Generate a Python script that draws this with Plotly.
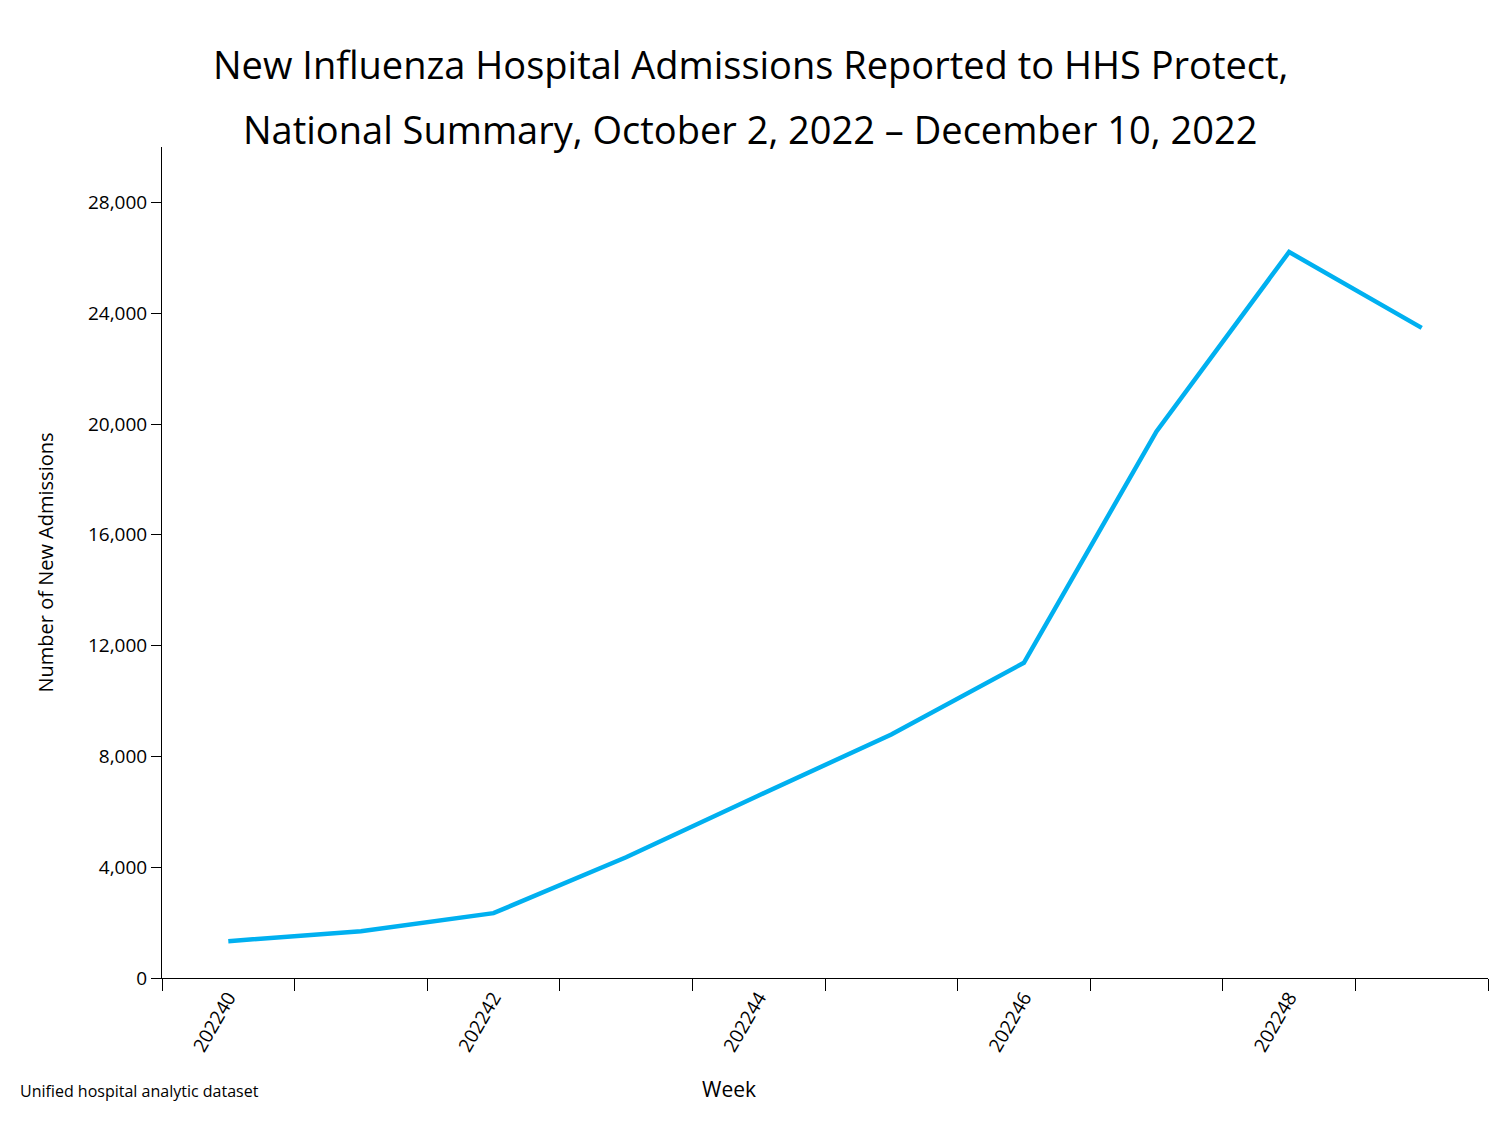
import plotly.graph_objects as go

# weekly national flu admissions (MMWR week 202240..202249)
weeks = [40, 41, 42, 43, 44, 45, 46, 47, 48, 49]
admissions = [1330, 1690, 2340, 4360, 6590, 8790, 11380, 19730, 26210, 23470]
label_weeks = [40, 42, 44, 46, 48]
label_text = ["2022" + str(w) for w in label_weeks]
y_ticks = [0, 4000, 8000, 12000, 16000, 20000, 24000, 28000]

W, H = 1500, 1125
L, R, T, B = 154, 20, 139, 155
PW, PH = W - L - R, H - T - B


def px(x):
    return (x - 8 - L) / PW


def py(y):
    return (H - B - (y - 8)) / PH


fig = go.Figure()
fig.add_trace(go.Scatter(
    x=weeks, y=admissions, mode="lines",
    line=dict(color="#00b0f0", width=4.5),
    showlegend=False,
))

font = "Open Sans, Calibri, Liberation Sans, sans-serif"
fig.update_layout(
    width=W, height=H,
    paper_bgcolor="white", plot_bgcolor="white",
    margin=dict(l=L, r=R, t=T, b=B),
    font=dict(family=font, color="black", size=19),
    xaxis=dict(
        range=[39.5, 49.5], tickvals=label_weeks, ticktext=label_text,
        tickangle=-60, ticks="", showgrid=False, zeroline=False,
        showline=True, linecolor="black", linewidth=1, automargin=False,
        minor=dict(tick0=39.5, dtick=1, ticks="outside", ticklen=12,
                   tickcolor="black", showgrid=False),
        tickfont=dict(size=19),
    ),
    yaxis=dict(
        range=[0, 30000], tickvals=y_ticks, tickformat=",",
        ticks="outside", ticklen=10, tickcolor="black",
        showgrid=False, zeroline=False, automargin=False,
        showline=True, linecolor="black", linewidth=1,
        title=dict(text="Number of New Admissions", font=dict(size=20), standoff=28),
    ),
)
fig.add_annotation(text="New Influenza Hospital Admissions Reported to HHS Protect,",
                   xref="paper", yref="paper", x=px(750), y=py(36),
                   showarrow=False, font=dict(size=38))
fig.add_annotation(text="National Summary, October 2, 2022 – December 10, 2022",
                   xref="paper", yref="paper", x=px(750), y=py(101),
                   showarrow=False, font=dict(size=38))
fig.add_annotation(text="Week", xref="paper", yref="paper", x=px(729), y=py(1105),
                   showarrow=False, font=dict(size=21))
fig.add_annotation(text="Unified hospital analytic dataset", xref="paper", yref="paper",
                   x=px(18), y=py(1104), xanchor="left", showarrow=False,
                   font=dict(size=16))
fig.write_html("out.html")
